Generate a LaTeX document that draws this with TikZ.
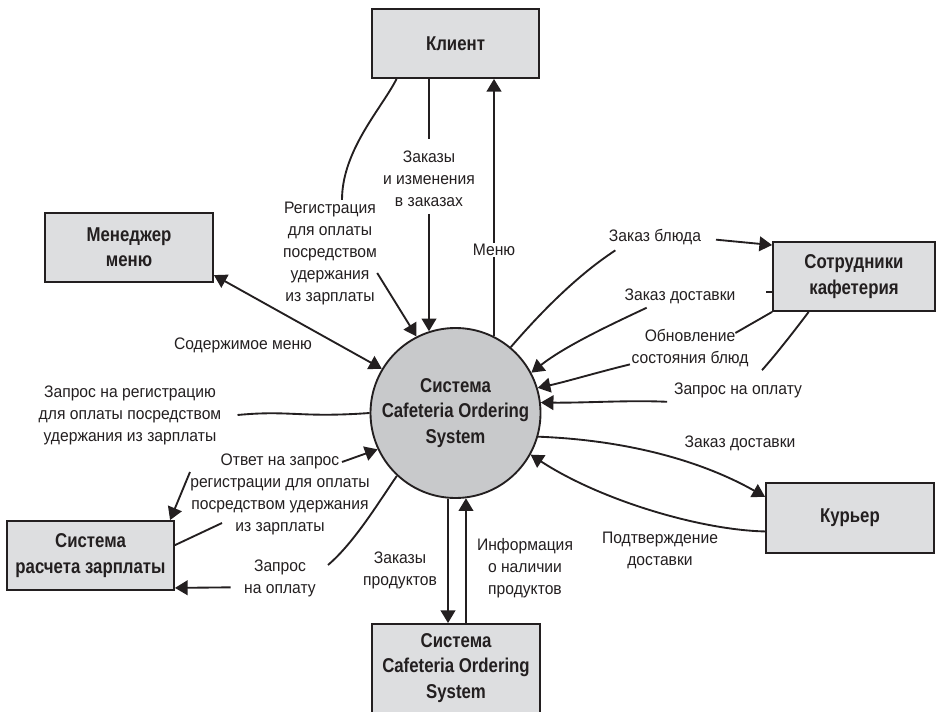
\documentclass[tikz,border=0pt]{standalone}
\usepackage{fontspec}
\setmainfont{Liberation Sans}
\newfontfamily\lab{Liberation Sans}[FakeStretch=0.94]
\newfontfamily\bnar{Liberation Sans}[FakeStretch=0.84]
\usetikzlibrary{arrows.meta,calc}
\definecolor{ink}{RGB}{35,31,32}
\definecolor{boxfill}{RGB}{221,222,224}
\definecolor{circfill}{RGB}{200,201,203}
\begin{document}
\begin{tikzpicture}[x=0.75pt,y=-0.75pt,
  box/.style={draw=ink, fill=boxfill, line width=1.4pt, align=center, inner sep=0pt, text=ink,
    font={\bnar\bfseries\fontsize{15}{19}\selectfont}},
  boxtext/.style={align=center, inner sep=0pt, text=ink, font={\bnar\bfseries\fontsize{15}{19}\selectfont}},
  lbl/.style={align=center, inner sep=1pt, text=ink, font={\lab\fontsize{12.5}{16.5}\selectfont}},
  flow/.style={draw=ink, line width=1.4pt},
  arr/.style={flow, -{Triangle[length=9.5pt,width=11pt]}},
  darr/.style={flow, {Triangle[length=9.5pt,width=11pt]}-{Triangle[length=9.5pt,width=11pt]}}]
\useasboundingbox (0,0) rectangle (937,712);
\clip (0,0) rectangle (937,712);

% boxes
\node[box, minimum width=125.25pt, minimum height=51.75pt] (klient) at (455.5,43.5) {Клиент};
\node[box, minimum width=126pt, minimum height=51.75pt] (men) at (129,247.5) {Менеджер\\меню};
\node[box, minimum width=121.5pt, minimum height=51.75pt] (sotr) at (854,276.5) {Сотрудники\\кафетерия};
\node[box, minimum width=126pt, minimum height=52.5pt] (kur) at (850,518) {Курьер};
\node[box, minimum width=125.25pt, minimum height=51.75pt] (pay) at (90.5,555.5) {Система\\расчета зарплаты};
\node[box, minimum width=126pt, minimum height=75pt] (cos) at (456,674) {};
\node[boxtext] (costxt) at (456,668) {Система\\Cafeteria Ordering\\System};
\node[circle, draw=ink, fill=circfill, line width=1.4pt, minimum size=127.5pt, inner sep=0pt,
  align=center, text=ink, font={\bnar\bfseries\fontsize{15}{19}\selectfont}] (sys) at (455.5,413)
  {Система\\Cafeteria Ordering\\System};

% labels
\node[lbl] (regL) at (330,253) {Регистрация\\для оплаты\\посредством\\удержания\\из зарплаты};
\node[lbl] (zakL) at (429,179) {Заказы\\и изменения\\в заказах};
\node[lbl] (soderL) at (243,345) {Содержимое меню};
\node[lbl] (bludaL) at (655,237) {Заказ блюда};
\node[lbl] (dost1L) at (680,296) {Заказ доставки};
\node[lbl] (obnL) at (690,348) {Обновление\\состояния блюд};
\node[lbl] (opl1L) at (738,390) {Запрос на оплату};
\node[lbl] (dost2L) at (740,443) {Заказ доставки};
\node[lbl] (podtL) at (660,550) {Подтверждение\\доставки};
\node[lbl] (regreqL) at (130,415) {Запрос на регистрацию\\для оплаты посредством\\удержания из зарплаты};
\node[lbl] (otvL) at (280,494) {Ответ на запрос\\регистрации для оплаты\\посредством удержания\\из зарплаты};
\node[lbl] (opl2L) at (280,578) {Запрос\\на оплату};
\node[lbl] (prodL) at (400,570) {Заказы\\продуктов};
\node[lbl] (infoL) at (525,568) {Информация\\о наличии\\продуктов};

% free ends
\coordinate (rrq) at (190,472);
\coordinate (otvA) at (222,523);
\coordinate (otvB) at (342,462);
\coordinate (opl2A) at (328,565);
\coordinate (menuA) at ($(sys.center)+(38.5,-76.8)$);

% Client
\draw[flow] (klient.211) .. controls (382,108) and (342,150) .. ([xshift=9pt]regL.north);
\draw[arr] ([xshift=-1pt,yshift=-15pt]regL.east) -- (sys.117);
\draw[flow] (klient.south -| zakL) -- ([yshift=8pt]zakL.north);
\draw[arr] ([yshift=-4pt]zakL.south) -- (zakL.south |- sys.108);
\draw[flow, line width=1.6pt, -{Triangle[length=9.5pt,width=11pt]}] (menuA) -- (menuA |- klient.south);
\node[lbl, fill=white] (menuL) at ($(menuA |- klient.south)!0.664!(menuA)$) {Меню};

% Menu manager
\draw[darr] (men.-18) -- (sys.149);

% Cafeteria staff
\draw[flow] (sys.50) .. controls (530,325) and (570,280) .. ([xshift=6pt,yshift=-3pt]bludaL.south west);
\draw[arr] ([xshift=10pt,yshift=-2pt]bludaL.east) -- (sotr.159);
\draw[flow] ([yshift=-11.5pt]sotr.west) -- ++(-6,0);
\draw[arr] ([xshift=-25pt,yshift=-2pt]dost1L.south) .. controls (612,324) and (565,346) .. (sys.28);
\draw[flow] (sotr.south west) -- ([xshift=-11pt,yshift=-4pt]obnL.north east);
\draw[arr] ([yshift=3pt]obnL.south west) .. controls (595,373) and (565,382) .. (sys.17);
\draw[flow] (sotr.218) .. controls (795,330) and (778,352) .. ([xshift=18pt,yshift=8pt]opl1L.north);
\draw[arr] ([xshift=-4pt,yshift=-2pt]opl1L.south west) .. controls (630,400) and (585,403) .. (sys.7);

% Courier
\draw[arr] (sys.-16) .. controls (625,440) and (700,460) .. (kur.166);
\draw[arr] (kur.189) .. controls (700,530) and (600,500) .. (sys.-29);

% Payroll
\draw[flow] (sys.180) .. controls (300,418) and (290,410) .. ([xshift=11pt]regreqL.east);
\draw[arr] (rrq) -- (pay.24);
\draw[flow] (pay.7) -- (otvA);
\draw[arr] (otvB) -- (sys.205);
\draw[flow] (sys.227) .. controls (380,500) and (355,542) .. (opl2A);
\draw[arr] ([xshift=-9pt,yshift=-7pt]opl2L.west) -- (pay.-21);

% Bottom system
\draw[arr] (sys.-95) -- (sys.-95 |- cos.north);
\draw[arr] (sys.-83 |- cos.north) -- (sys.-83);
\end{tikzpicture}
\end{document}
